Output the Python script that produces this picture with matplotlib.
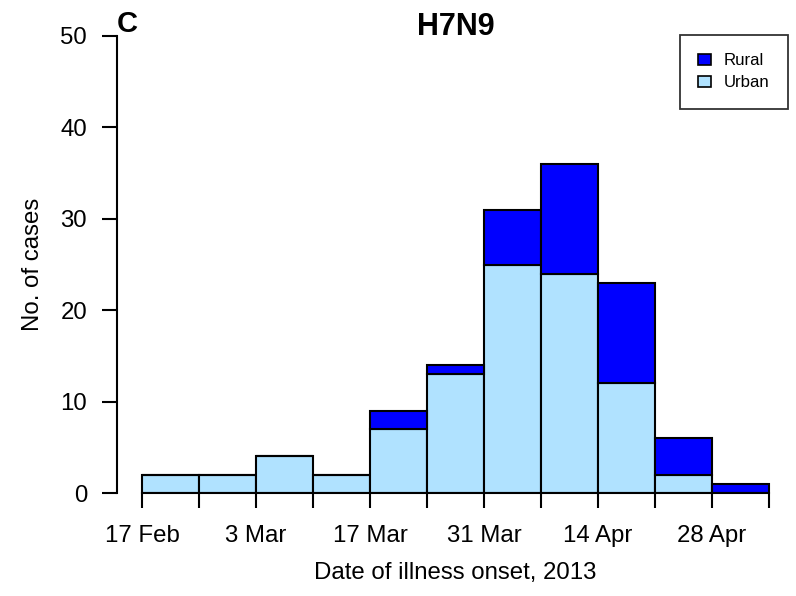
import matplotlib.pyplot as plt
import matplotlib.patches as mpatches
import numpy as np

# weekly counts of H7N9 cases, weeks starting 17 Feb 2013
week_labels = ["17 Feb", "", "3 Mar", "", "17 Mar", "", "31 Mar", "", "14 Apr", "", "28 Apr", ""]
urban = [2, 2, 4, 2, 7, 13, 25, 24, 12, 2, 0]
rural = [0, 0, 0, 0, 2, 1, 6, 12, 11, 4, 1]

urban_color = "#B0E2FF"
rural_color = "#0000FF"

plt.rcParams["font.family"] = ["Liberation Sans", "DejaVu Sans"]

W, H = 796, 596
fig = plt.figure(figsize=(W / 100, H / 100), dpi=100)
# plot region in pixels: x 117..794, y 36 (top) .. 493 (bottom)
ax = fig.add_axes([117 / W, (H - 493) / H, (794 - 117) / W, (493 - 36) / H])

days = np.arange(len(urban)) * 7
ax.bar(days, urban, width=7, align="edge", color=urban_color,
       edgecolor="black", linewidth=1.5)
ax.bar(days, rural, width=7, bottom=urban, align="edge", color=rural_color,
       edgecolor="black", linewidth=1.5)

# 4% padding on each side of the data range, as in base graphics
ax.set_xlim(-0.04 * 77, 77 * 1.04)
ax.set_ylim(0, 50)

ax.spines["top"].set_visible(False)
ax.spines["right"].set_visible(False)
ax.spines["left"].set_bounds(0, 50)
ax.spines["bottom"].set_bounds(0, 77)
for s in ("left", "bottom"):
    ax.spines[s].set_linewidth(1.5)

ax.set_xticks(np.arange(12) * 7)
ax.set_xticklabels(week_labels)
ax.set_yticks([0, 10, 20, 30, 40, 50])
ax.tick_params(axis="both", length=11, width=1.5, labelsize=17.3)
ax.tick_params(axis="x", pad=12)
ax.tick_params(axis="y", pad=10.5)

ax.set_xlabel("Date of illness onset, 2013", fontsize=17.3, labelpad=11)
ax.set_ylabel("No. of cases", fontsize=17.3, labelpad=12)

fig.text(455.5 / W, 1 - 35 / H, "H7N9", fontsize=22, fontweight="bold",
         ha="center", va="baseline")
fig.text(117 / W, 1 - 32 / H, "C", fontsize=21, fontweight="bold",
         ha="left", va="baseline")

handles = [
    mpatches.Patch(facecolor=rural_color, edgecolor="black", linewidth=1.2, label="Rural"),
    mpatches.Patch(facecolor=urban_color, edgecolor="black", linewidth=1.2, label="Urban"),
]
leg = ax.legend(handles=handles, loc="upper right",
                bbox_to_anchor=(788 / W, 1 - 35 / H),
                bbox_transform=fig.transFigure, borderaxespad=0,
                fontsize=12.1, frameon=True, fancybox=False,
                handlelength=0.77, handleheight=0.6, borderpad=1.1,
                labelspacing=0.4, handletextpad=0.75)
leg.get_frame().set_edgecolor("black")
leg.get_frame().set_linewidth(1.3)

fig.savefig("out.png", dpi=100)
